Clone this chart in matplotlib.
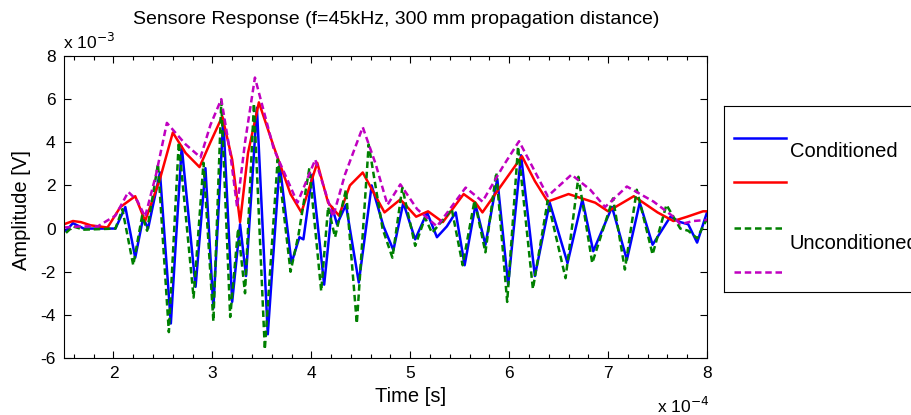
import numpy as np
import matplotlib.pyplot as plt
from matplotlib.ticker import MultipleLocator

plt.rcParams['font.family'] = ['Liberation Sans', 'DejaVu Sans']
plt.rcParams['axes.unicode_minus'] = False

# time in microseconds, amplitude in mV
t_cond = [152, 159, 170, 202, 212, 222, 230, 235, 247, 258, 269, 283, 293, 301, 311,
          320, 328, 334, 345, 356, 368, 380, 388, 392, 401, 413, 421, 426, 435, 448,
          461, 473, 483, 493, 505, 517, 527, 537, 546, 555, 566, 576, 588, 599, 612,
          626, 641, 659, 674, 685, 704, 719, 732, 745, 763, 773, 781, 790, 800]
v_cond = [-0.1, 0.25, 0.0, 0.0, 1.0, -1.35, 0.5, 0.0, 2.6, -4.4, 3.8, -2.7, 2.8, -3.7, 5.1,
          -3.4, 0.2, -2.2, 5.6, -4.9, 3.0, -1.6, -0.4, -0.5, 2.5, -2.6, 1.0, 0.2, 1.1, -2.5,
          2.0, 0.1, -1.0, 1.2, -0.5, 0.75, -0.4, 0.1, 0.75, -1.7, 1.1, -0.75, 2.3, -2.6, 3.4,
          -2.2, 1.2, -1.6, 1.35, -1.05, 1.0, -1.45, 1.2, -0.75, 0.55, 0.3, 0.2, -0.65, 0.75]

t_cond_env = [150, 159, 167, 177, 194, 207, 222, 232, 247, 260, 273, 287, 298, 310, 320,
              328, 336, 347, 362, 379, 390, 406, 417, 428, 439, 452, 465, 474, 490, 506,
              518, 533, 554, 566, 573, 589, 613, 626, 639, 660, 687, 700, 726, 750, 766,
              780, 796, 800]
v_cond_env = [0.2, 0.35, 0.3, 0.15, 0.05, 1.0, 1.5, 0.35, 2.3, 4.45, 3.5, 2.85, 4.0, 5.2, 3.2,
              0.3, 3.5, 5.85, 3.8, 1.6, 0.75, 3.05, 1.2, 0.6, 2.0, 2.6, 1.5, 0.75, 1.35, 0.55,
              0.8, 0.3, 1.6, 1.2, 0.75, 1.8, 3.35, 2.2, 1.25, 1.6, 1.2, 0.8, 1.5, 0.75, 0.35,
              0.55, 0.8, 0.8]

t_unc = [152, 159, 170, 202, 209, 220, 229, 234, 245, 256, 266, 281, 291, 301, 309,
         318, 326, 333, 342, 353, 366, 379, 387, 398, 410, 417, 424, 435, 446, 458,
         472, 482, 492, 505, 515, 522, 535, 542, 553, 565, 576, 587, 598, 609, 624,
         639, 657, 670, 684, 705, 717, 729, 745, 759, 773, 781, 790, 800]
v_unc = [-0.2, 0.1, -0.05, 0.0, 0.9, -1.7, 0.6, -0.1, 3.0, -4.8, 4.0, -3.2, 3.05, -4.3, 5.9,
         -4.1, 0.0, -3.0, 5.8, -5.6, 3.2, -2.0, -0.3, 2.8, -2.9, 1.0, -0.4, 1.8, -4.4, 3.9,
         0.0, -1.35, 1.9, -0.8, 0.5, -0.2, 0.5, 0.9, -1.7, 1.3, -1.1, 2.6, -3.4, 3.8, -2.8,
         1.3, -2.3, 2.4, -1.6, 1.4, -1.9, 1.8, -1.2, 1.1, 0.0, -0.1, -0.45, 0.45]

t_unc_env = [150, 167, 184, 202, 215, 224, 232, 243, 254, 273, 288, 298, 309, 318, 325,
             333, 343, 362, 386, 404, 422, 434, 452, 465, 477, 490, 507, 527, 540, 556,
             568, 573, 594, 610, 622, 639, 663, 682, 697, 719, 746, 766, 773, 786, 800]
v_unc_env = [0.05, 0.1, 0.1, 0.6, 1.7, 1.3, 0.55, 2.5, 4.9, 3.9, 3.3, 4.8, 6.0, 3.5, 1.0,
             4.0, 7.0, 3.7, 1.2, 3.2, 0.55, 2.5, 4.7, 3.0, 1.1, 2.05, 0.9, 0.1, 0.9, 1.9,
             1.45, 1.25, 2.9, 4.05, 3.0, 1.5, 2.5, 1.8, 1.0, 1.95, 1.25, 0.55, 0.2, 0.35, 0.4]

labels = ['Conditioned', 'Unconditioned']

blue = '#0000ff'
red = '#ff0000'
green = '#008000'
mag = '#c000c0'
lw = 1.8
dash = (2.6, 1.5)

fig = plt.figure(figsize=(9.12, 4.15), dpi=100)
ax = fig.add_axes([64 / 912, 57 / 415, 643 / 912, 302 / 415])

kw = dict(lw=lw, solid_joinstyle='round', dash_joinstyle='round')
ax.plot(np.array(t_cond) / 100, v_cond, color=blue, **kw)
ax.plot(np.array(t_cond_env) / 100, v_cond_env, color=red, **kw)
ax.plot(np.array(t_unc) / 100, v_unc, color=green, ls='--', dashes=dash, **kw)
ax.plot(np.array(t_unc_env) / 100, v_unc_env, color=mag, ls='--', dashes=dash, **kw)

ax.set_xlim(1.5, 8)
ax.set_ylim(-6, 8)
ax.set_xticks(range(2, 9))
ax.xaxis.set_minor_locator(MultipleLocator(0.2))
ax.set_yticks(range(-6, 9, 2))
ax.tick_params(direction='in', top=True, right=True, labelsize=12.5, length=5, width=0.8, pad=6)
ax.tick_params(which='minor', direction='in', top=True, length=3, width=0.8)
for s in ax.spines.values():
    s.set_linewidth(0.8)

fig.text(396 / 912, 1 - 20 / 415, 'Sensore Response (f=45kHz, 300 mm propagation distance)',
         ha='center', va='center', fontsize=14)
fig.text(411 / 912, 1 - 396 / 415, 'Time [s]', ha='center', va='center', fontsize=14.5)
fig.text(22 / 912, 1 - 210 / 415, 'Amplitude [V]', ha='center', va='center',
         rotation=90, fontsize=14.5)
fig.text(63 / 912, 1 - 42 / 415, 'x 10$^{-3}$', ha='left', va='center', fontsize=12.5)
fig.text(657 / 912, 1 - 406 / 415, 'x 10$^{-4}$', ha='left', va='center', fontsize=12.5)

# legend box, cut off at the right edge like the original
lax = fig.add_axes([724 / 912, 123 / 415, 220 / 912, 186 / 415])
lax.set_xlim(0, 1)
lax.set_ylim(0, 1)
lax.set_xticks([])
lax.set_yticks([])
lax.plot([0.045, 0.28], [0.828, 0.828], color=blue, lw=lw)
lax.plot([0.045, 0.28], [0.591, 0.591], color=red, lw=lw)
lax.plot([0.045, 0.265], [0.344, 0.344], color=green, lw=lw, ls='--', dashes=dash)
lax.plot([0.045, 0.265], [0.108, 0.108], color=mag, lw=lw, ls='--', dashes=dash)
lax.text(0.30, 0.758, labels[0], ha='left', va='center', fontsize=14.5)
lax.text(0.30, 0.263, labels[1], ha='left', va='center', fontsize=14.5)

fig.savefig('out.png', dpi=100)
